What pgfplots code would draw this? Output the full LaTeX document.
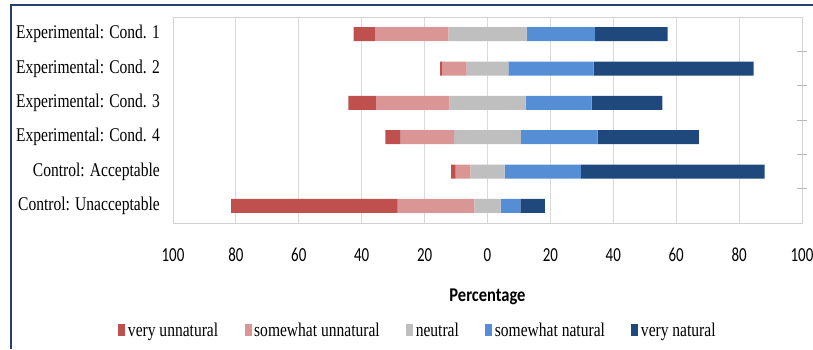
\documentclass[border=0pt]{standalone}
\usepackage{pgfplots}
\pgfplotsset{compat=1.18}
\usepackage{pgfplotstable}
\usepackage{fontspec}
\setmainfont{Liberation Serif}[FakeStretch=0.8]
\newfontfamily\calib{Carlito}[FakeStretch=0.75]
\newfontfamily\calibwide{Carlito}[FakeStretch=0.85]

\definecolor{vu}{RGB}{192,80,77}
\definecolor{su}{RGB}{217,150,148}
\definecolor{ne}{RGB}{191,191,191}
\definecolor{sn}{RGB}{85,142,213}
\definecolor{vn}{RGB}{31,73,125}
\definecolor{frameblue}{RGB}{37,64,110}

% percentages per rating category, one row per condition
\pgfplotstableread{
row vu su ne sn vn
0 6.9 23.2 24.9 21.7 23.1
1 0.7 7.7 13.3 27.1 50.9
2 8.9 23.2 24.2 21.0 22.5
3 4.7 17.2 21.2 24.4 32.2
4 1.4 4.7 10.9 24.2 58.5
5 53.0 24.4 8.3 6.3 7.8
}\ratings

\pgfplotsset{
  frame axis/.style={
    at={(173bp,-223bp)}, anchor=south west,
    scale only axis, width=629bp, height=206bp,
    xmin=-100, xmax=100, ymin=-0.5, ymax=5.5, y dir=reverse,
  }
}

\begin{document}
\begin{tikzpicture}[x=1bp,y=1bp]
\path[use as bounding box] (0,0) rectangle (813,-349);
\draw[frameblue, line width=1.5bp] (11,-349) -- (11,-5) -- (813,-5);
\begin{axis}[
  frame axis,
  xbar stacked, bar width=14bp,
  stack negative=on previous,
  clip=false,
  xtick={-100,-80,...,100},
  xticklabels={100,80,60,40,20,0,20,40,60,80,100},
  ytick={0,...,5},
  yticklabels={Experimental: Cond. 1,Experimental: Cond. 2,Experimental: Cond. 3,Experimental: Cond. 4,Control: Acceptable,Control: Unacceptable},
  major tick length=0pt,
  xmajorgrids, grid style={draw=gray!30, line width=1bp},
  axis line style={draw=gray!35, line width=1bp},
  xticklabel style={font=\calib\fontsize{20}{20}\selectfont, anchor=center, yshift=-32bp},
  yticklabel style={font=\fontsize{19.5}{20}\selectfont, anchor=east, inner sep=0pt, xshift=-13bp},
  xlabel={Percentage},
  xlabel style={font=\calibwide\bfseries\fontsize{19.5}{20}\selectfont, at={(axis description cs:0.5,-0.359)}, anchor=center},
]
% invisible offset so that each bar is centred on the neutral segment
\addplot[draw=none, fill=none] table[x expr={-(\thisrow{vu}+\thisrow{su}+0.5*\thisrow{ne})}, y=row]{\ratings};
\addplot[fill=vu, draw=none] table[x=vu, y=row]{\ratings};
\addplot[fill=su, draw=none] table[x=su, y=row]{\ratings};
\addplot[fill=ne, draw=none] table[x=ne, y=row]{\ratings};
\addplot[fill=sn, draw=none] table[x=sn, y=row]{\ratings};
\addplot[fill=vn, draw=none] table[x=vn, y=row]{\ratings};
\pgfplotsinvokeforeach{0.5,1.5,2.5,3.5,4.5}{
  \draw[gray!55, line width=1bp] ([xshift=-5bp]axis cs:100,#1) -- ([xshift=5bp]axis cs:100,#1);
}
\end{axis}
% legend
\begin{axis}[
  frame axis, hide axis,
  legend columns=5,
  legend image code/.code={\fill[#1] (0bp,-6bp) rectangle (7bp,6bp);},
  legend style={draw=none, fill=none, at={(axis description cs:0.39,-0.52)}, anchor=center,
    font=\fontsize{19.5}{20}\selectfont,
    nodes={inner sep=2.5bp},
    /tikz/every even column/.append style={column sep=24bp}},
]
\addlegendimage{fill=vu, draw=none}
\addlegendentry{very unnatural}
\addlegendimage{fill=su, draw=none}
\addlegendentry{somewhat unnatural}
\addlegendimage{fill=ne, draw=none}
\addlegendentry{neutral}
\addlegendimage{fill=sn, draw=none}
\addlegendentry{somewhat natural}
\addlegendimage{fill=vn, draw=none}
\addlegendentry{very natural}
\end{axis}
\end{tikzpicture}
\end{document}
